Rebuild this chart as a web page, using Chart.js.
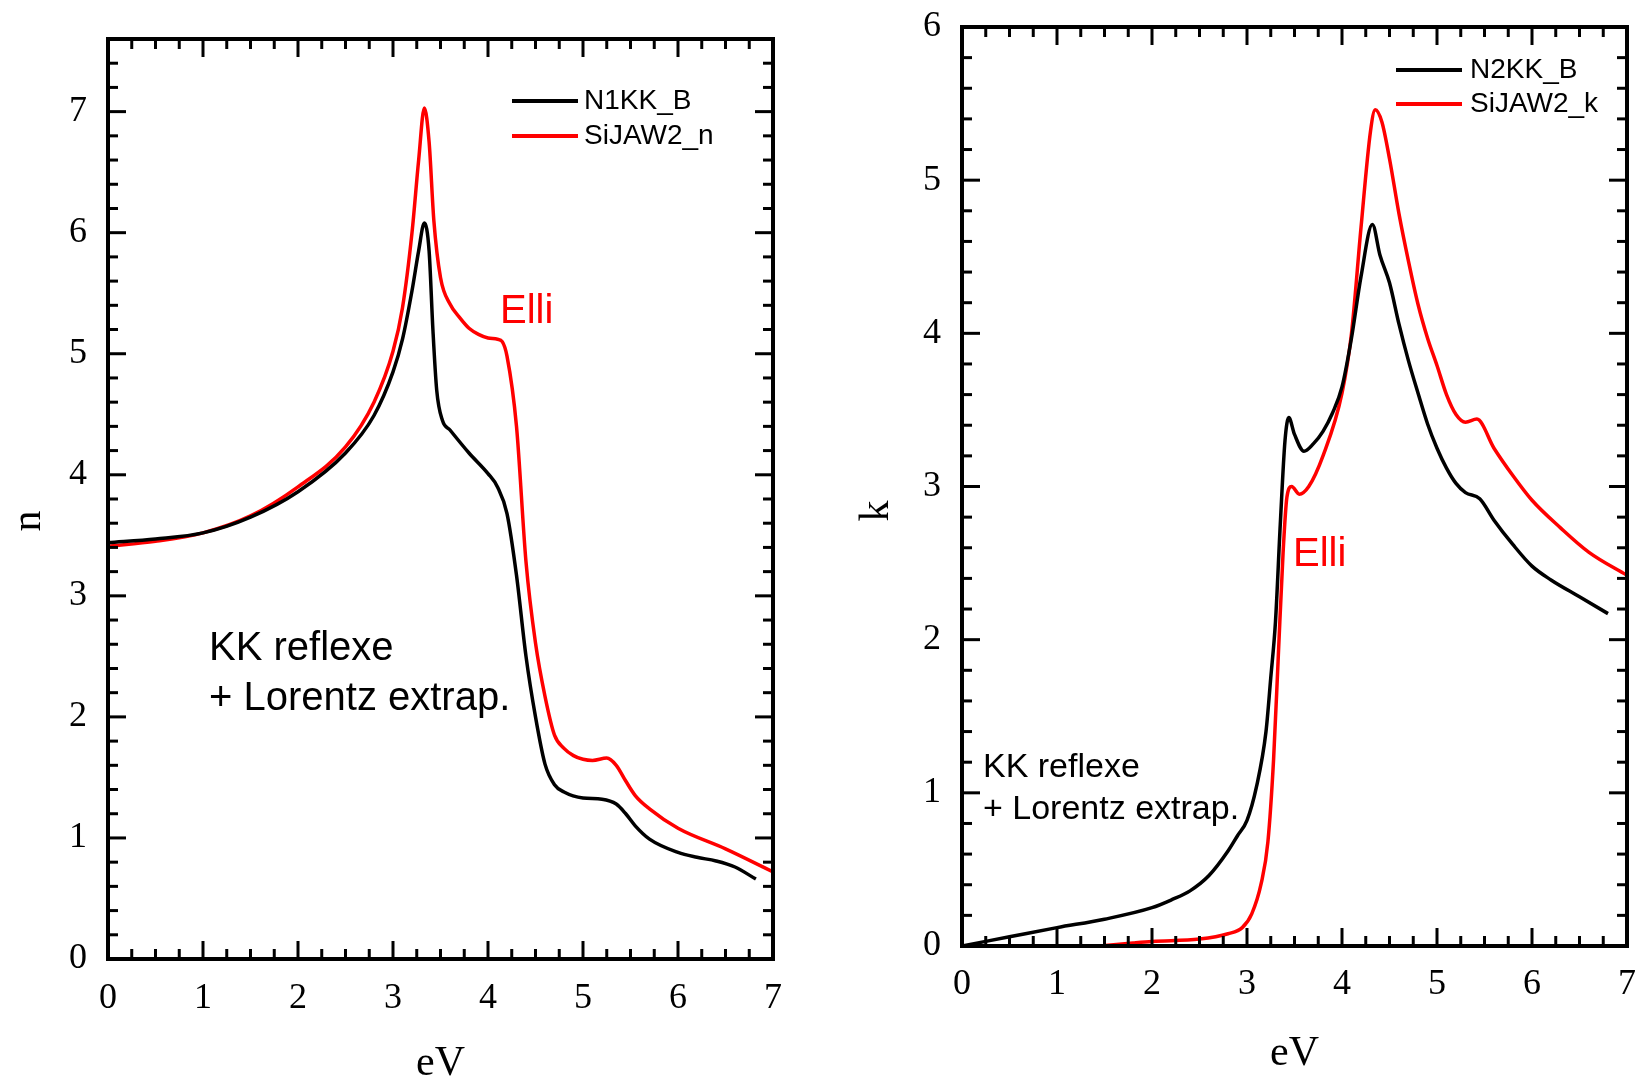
<!DOCTYPE html>
<html>
<head>
<meta charset="utf-8">
<title>n, k</title>
<script src="https://cdn.jsdelivr.net/npm/chart.js@4.4.1/dist/chart.umd.min.js"></script>
<style>
  html, body { margin: 0; padding: 0; background: #fff; overflow: hidden; }
  /* panels start above the page so the top tick label never squeezes the plot */
  .panel { position: absolute; top: -20px; height: 1105px; }
  #panel-n { left: 0; width: 817px; }
  #panel-k { left: 817px; width: 855px; }
</style>
</head>
<body>
<div class="panel" id="panel-n"><canvas id="chart-n"></canvas></div>
<div class="panel" id="panel-k"><canvas id="chart-k"></canvas></div>
<script>
// refractive index n: KK reflection result vs ellipsometry
const evN1KK = [0, 0.5, 1.0, 1.5, 2.0, 2.5, 2.8, 3.0, 3.1, 3.2, 3.27, 3.33, 3.38, 3.42, 3.46, 3.52, 3.6, 3.8, 4.0, 4.1, 4.2, 4.3, 4.4, 4.5, 4.6, 4.7, 4.8, 5.0, 5.2, 5.35, 5.45, 5.55, 5.7, 6.0, 6.2, 6.4, 6.6, 6.82];
const nN1KK = [3.44, 3.47, 3.52, 3.65, 3.86, 4.18, 4.49, 4.85, 5.12, 5.52, 5.85, 6.08, 5.85, 5.2, 4.7, 4.45, 4.37, 4.18, 4.01, 3.9, 3.68, 3.17, 2.5, 2.0, 1.61, 1.44, 1.38, 1.33, 1.32, 1.28, 1.2, 1.1, 0.99, 0.88, 0.84, 0.81, 0.76, 0.66];

const evSiJAWn = [0, 0.5, 1.0, 1.5, 2.0, 2.5, 2.8, 3.0, 3.1, 3.2, 3.27, 3.33, 3.38, 3.43, 3.5, 3.6, 3.7, 3.8, 3.9, 4.0, 4.1, 4.15, 4.2, 4.3, 4.4, 4.5, 4.6, 4.7, 4.8, 4.9, 5.0, 5.1, 5.25, 5.35, 5.45, 5.55, 5.7, 6.0, 6.5, 7.0];
const nSiJAW = [3.41, 3.45, 3.52, 3.66, 3.90, 4.23, 4.6, 5.02, 5.38, 6.0, 6.6, 7.03, 6.75, 6.1, 5.63, 5.41, 5.3, 5.21, 5.16, 5.13, 5.12, 5.1, 4.98, 4.4, 3.28, 2.61, 2.17, 1.85, 1.74, 1.68, 1.65, 1.64, 1.66, 1.6, 1.47, 1.35, 1.24, 1.08, 0.91, 0.72];

// extinction coefficient k
const evN2KK = [0, 0.5, 1.0, 1.5, 2.0, 2.2, 2.4, 2.6, 2.8, 2.9, 3.0, 3.1, 3.2, 3.25, 3.3, 3.35, 3.4, 3.44, 3.5, 3.6, 3.7, 3.8, 3.9, 4.0, 4.1, 4.2, 4.32, 4.4, 4.5, 4.6, 4.7, 4.8, 4.9, 5.0, 5.1, 5.2, 5.3, 5.45, 5.6, 5.8, 6.0, 6.2, 6.5, 6.8];
const kN2KK = [0, 0.06, 0.12, 0.175, 0.25, 0.30, 0.36, 0.46, 0.62, 0.72, 0.82, 1.04, 1.40, 1.75, 2.12, 2.75, 3.3, 3.45, 3.34, 3.23, 3.28, 3.36, 3.48, 3.65, 3.97, 4.37, 4.71, 4.51, 4.33, 4.06, 3.82, 3.61, 3.41, 3.25, 3.12, 3.02, 2.96, 2.92, 2.78, 2.62, 2.48, 2.39, 2.28, 2.17];

const evSiJAWk = [1.45, 1.8, 2.0, 2.5, 2.8, 2.95, 3.05, 3.15, 3.22, 3.28, 3.33, 3.38, 3.42, 3.47, 3.55, 3.65, 3.8, 4.0, 4.1, 4.2, 4.3, 4.35, 4.42, 4.5, 4.6, 4.7, 4.8, 4.9, 5.0, 5.1, 5.2, 5.3, 5.42, 5.6, 5.8, 6.0, 6.3, 6.6, 7.0];
const kSiJAW = [0, 0.02, 0.03, 0.045, 0.08, 0.12, 0.21, 0.41, 0.68, 1.22, 1.9, 2.57, 2.93, 3.0, 2.95, 3.0, 3.2, 3.61, 4.0, 4.69, 5.32, 5.46, 5.38, 5.14, 4.78, 4.47, 4.19, 3.97, 3.79, 3.6, 3.47, 3.42, 3.44, 3.25, 3.07, 2.91, 2.73, 2.57, 2.42];

const evTicks = [0, 1, 2, 3, 4, 5, 6, 7];
const nTicks = [0, 1, 2, 3, 4, 5, 6, 7];
const kTicks = [0, 1, 2, 3, 4, 5, 6];

const toPoints = (xs, ys) => xs.map((x, i) => ({ x, y: ys[i] }));

// inward ticks on all four sides plus the closed frame
const framePlugin = {
  id: "frame",
  afterDatasetsDraw(chart) {
    const { ctx, chartArea: a, scales } = chart;
    const { x, y } = scales;
    const line = (x1, y1, x2, y2) => {
      ctx.beginPath();
      ctx.moveTo(x1, y1);
      ctx.lineTo(x2, y2);
      ctx.stroke();
    };

    ctx.save();
    ctx.strokeStyle = "#000";
    ctx.lineWidth = 3;

    const xSteps = Math.round((x.max - x.min) / 0.25);
    for (let i = 0; i <= xSteps; i++) {
      const px = x.getPixelForValue(x.min + i * 0.25);
      const len = i % 4 === 0 ? 18 : 10;
      line(px, a.bottom, px, a.bottom - len);
      line(px, a.top, px, a.top + len);
    }

    const ySteps = Math.round((y.max - y.min) / 0.2);
    for (let i = 0; i <= ySteps; i++) {
      const py = y.getPixelForValue(y.min + i * 0.2);
      const len = i % 5 === 0 ? 18 : 10;
      line(a.left, py, a.left + len, py);
      line(a.right, py, a.right - len, py);
    }

    ctx.lineWidth = 4;
    ctx.strokeRect(a.left, a.top, a.right - a.left, a.bottom - a.top);
    ctx.restore();
  },
};

// legend, y title and the free text labels (y values are page coordinates)
const notesPlugin = {
  id: "notes",
  afterDraw(chart, args, opts) {
    const { ctx } = chart;
    const dy = 20;
    ctx.save();

    ctx.textBaseline = "middle";
    ctx.textAlign = "left";
    ctx.font = "28px 'Liberation Sans', Arial, sans-serif";
    chart.data.datasets.forEach((ds, i) => {
      const ly = opts.legend.y + i * opts.legend.gap + dy;
      ctx.strokeStyle = ds.borderColor;
      ctx.lineWidth = 4;
      ctx.beginPath();
      ctx.moveTo(opts.legend.x1, ly);
      ctx.lineTo(opts.legend.x2, ly);
      ctx.stroke();
      ctx.fillStyle = "#000";
      ctx.fillText(ds.label, opts.legend.tx, ly);
    });

    for (const t of opts.texts) {
      ctx.font = `${t.size}px 'Liberation Sans', Arial, sans-serif`;
      ctx.fillStyle = t.color;
      ctx.fillText(t.text, t.x, t.y + dy);
    }

    ctx.translate(opts.yTitle.x, opts.yTitle.y + dy);
    ctx.rotate(-Math.PI / 2);
    ctx.textAlign = "center";
    ctx.fillStyle = "#000";
    ctx.font = "42px 'Liberation Serif', 'Times New Roman', serif";
    ctx.fillText(opts.yTitle.text, 0, 0);
    ctx.restore();
  },
};

const tickFont = { family: "'Liberation Serif', 'Times New Roman', serif", size: 36 };

const makeChart = (id, cfg) =>
  new Chart(document.getElementById(id), {
    type: "line",
    data: {
      datasets: cfg.series.map((s) => ({
        label: s.label,
        data: s.data,
        borderColor: s.color,
        borderWidth: 3.5,
        pointRadius: 0,
        fill: false,
        cubicInterpolationMode: "monotone",
      })),
    },
    options: {
      responsive: true,
      maintainAspectRatio: false,
      animation: false,
      devicePixelRatio: 1,
      layout: { padding: cfg.padding },
      plugins: {
        legend: { display: false },
        tooltip: { enabled: false },
        notes: cfg.notes,
      },
      scales: {
        x: {
          type: "linear",
          min: 0,
          max: 7,
          afterBuildTicks: (s) => {
            s.ticks = evTicks.map((v) => ({ value: v }));
          },
          afterFit: (s) => {
            s.height = cfg.xHeight;
          },
          grid: { display: false, drawTicks: false },
          border: { display: false },
          ticks: { font: tickFont, color: "#000", padding: cfg.xPad, maxRotation: 0 },
          title: {
            display: true,
            text: "eV",
            color: "#000",
            font: { family: tickFont.family, size: 42, lineHeight: 1 },
            padding: 0,
          },
        },
        y: {
          type: "linear",
          min: 0,
          max: cfg.yMax,
          afterBuildTicks: (s) => {
            s.ticks = cfg.yTicks.map((v) => ({ value: v }));
          },
          afterFit: (s) => {
            s.width = cfg.yWidth;
          },
          grid: { display: false, drawTicks: false },
          border: { display: false },
          ticks: { font: tickFont, color: "#000", padding: 21 },
        },
      },
    },
    plugins: [framePlugin, notesPlugin],
  });

makeChart("chart-n", {
  series: [
    { label: "N1KK_B", data: toPoints(evN1KK, nN1KK), color: "#000000" },
    { label: "SiJAW2_n", data: toPoints(evSiJAWn, nSiJAW), color: "#ff0000" },
  ],
  yMax: 7.6,
  yTicks: nTicks,
  yWidth: 108,
  xHeight: 126,
  xPad: 18,
  padding: { left: 0, top: 59, right: 44, bottom: 0 },
  notes: {
    legend: { x1: 512, x2: 578, tx: 584, y: 101, gap: 35 },
    yTitle: { text: "n", x: 29, y: 521 },
    texts: [
      { text: "Elli", x: 500, y: 312, size: 40, color: "#ff0000" },
      { text: "KK reflexe", x: 209, y: 649, size: 40, color: "#000" },
      { text: "+ Lorentz extrap.", x: 209, y: 699, size: 40, color: "#000" },
    ],
  },
});

makeChart("chart-k", {
  series: [
    { label: "N2KK_B", data: toPoints(evN2KK, kN2KK), color: "#000000" },
    { label: "SiJAW2_k", data: toPoints(evSiJAWk, kSiJAW), color: "#ff0000" },
  ],
  yMax: 6,
  yTicks: kTicks,
  yWidth: 145,
  xHeight: 129,
  xPad: 17,
  padding: { left: 0, top: 47, right: 45, bottom: 10 },
  notes: {
    legend: { x1: 579, x2: 645, tx: 653, y: 70, gap: 34 },
    yTitle: { text: "k", x: 60, y: 511 },
    texts: [
      { text: "Elli", x: 476, y: 555, size: 40, color: "#ff0000" },
      { text: "KK reflexe", x: 166, y: 768, size: 34, color: "#000" },
      { text: "+ Lorentz extrap.", x: 166, y: 810, size: 34, color: "#000" },
    ],
  },
});
</script>
</body>
</html>
